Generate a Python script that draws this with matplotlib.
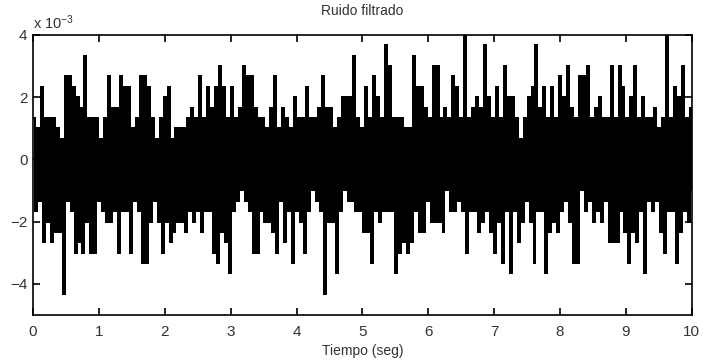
import matplotlib
matplotlib.use("Agg")
import matplotlib.pyplot as plt
import numpy as np

# niveles cuantizados del ruido filtrado (paso = 1/3 x 10^-3)
nivel = [
    4,-5, 3,-4, 7,-8, 4,-6, 4,-8, 4,-7, 3,-7, 2,-13, 8,-4, 8,-5,
    7,-9, 6,-8, 5,-9, 10,-6, 4,-9, 4,-9, 4,-4, 2,-5, 4,-6, 8,-6,
    5,-5, 5,-9, 8,-5, 7,-5, 7,-9, 3,-4, 4,-5, 8,-10,
    8,-10, 7,-6, 4,-4, 2,-6, 4,-9, 6,-6, 7,-8, 2,-7, 3,-6, 3,-6,
    3,-7, 4,-5, 5,-6, 4,-5, 8,-7, 4,-5, 7,-5, 5,-9, 7,-10, 9,-7,
    7,-8, 4,-11, 7,-5, 4,-4, 5,-3, 9,-4, 8,-5, 8,-9,
    5,-9, 4,-5, 4,-6, 3,-6, 5,-7, 8,-9, 3,-4, 5,-8, 4,-5, 3,-10,
    6,-5, 4,-6, 4,-9, 7,-5, 4,-3, 4,-4, 5,-5, 8,-13, 5,-6, 5,-6,
    3,-11, 4,-5, 6,-3, 6,-4, 6,-4, 10,-5, 4,-5, 3,-7,
    7,-7, 4,-10, 8,-5, 6,-6, 4,-5, 11,-5, 9,-5, 4,-11, 4,-9, 4,-8,
    3,-9, 3,-8, 10,-5, 7,-7, 7,-7, 5,-4, 4,-6, 9,-6, 9,-6, 4,-7,
    5,-3, 4,-5, 8,-5, 7,-4, 4,-5, 12,-9, 4,-5, 5,-5,
    6,-7, 5,-6, 11,-5, 6,-7, 4,-9, 7,-6, 4,-10, 9,-5, 6,-11, 6,-5,
    4,-8, 2,-6, 4,-4, 6,-6, 7,-10, 11,-5, 5,-5, 7,-11, 4,-7, 7,-6,
    4,-7, 8,-5, 6,-4, 9,-6, 5,-10, 4,-10, 8,-3, 8,-5,
    9,-4, 4,-6, 5,-5, 6,-6, 4,-4, 4,-8, 9,-8, 4,-8, 9,-5, 7,-7,
    4,-10, 6,-7, 9,-8, 4,-5, 6,-11, 4,-4, 4,-5, 5,-4, 3,-7, 4,-9,
    12,-5, 4,-5, 7,-10, 6,-7, 9,-5, 4,-6, 5,-3,
]
paso = 1.0 / 3          # en unidades de 10^-3
duracion = 10           # segundos

ruido = np.array(nivel) * paso
tiempo = np.linspace(0, duracion, len(ruido))

plt.rcParams['font.family'] = ['Liberation Sans', 'DejaVu Sans']
plt.rcParams['mathtext.default'] = 'regular'

fig = plt.figure(figsize=(7.03, 3.64), dpi=100)
ax = fig.add_axes([0.047, 0.135, 0.937, 0.769])

ax.plot(tiempo, ruido, color="black", linewidth=1.2, drawstyle="steps-post",
        antialiased=False)

ax.set_xlim(0, 10)
ax.set_ylim(-5, 4)
ax.set_xticks(range(0, 11))
ax.set_yticks([-4, -2, 0, 2, 4])
ax.tick_params(direction="in", length=5, width=1.2, top=True, right=True,
               labelsize=11, labelcolor="#333333")
ax.tick_params(axis="x", pad=7)
ax.tick_params(axis="y", pad=4)
for s in ax.spines.values():
    s.set_linewidth(1.2)

ax.set_title("Ruido filtrado", fontsize=10, color="#333333", pad=14)
ax.set_xlabel("Tiempo (seg)", fontsize=10, color="#333333", labelpad=4)
ax.text(0.0, 1.01, "x 10$^{-3}$", transform=ax.transAxes, ha="left", va="bottom",
        fontsize=10.5, color="#333333")

fig.savefig("out.png", dpi=100)
